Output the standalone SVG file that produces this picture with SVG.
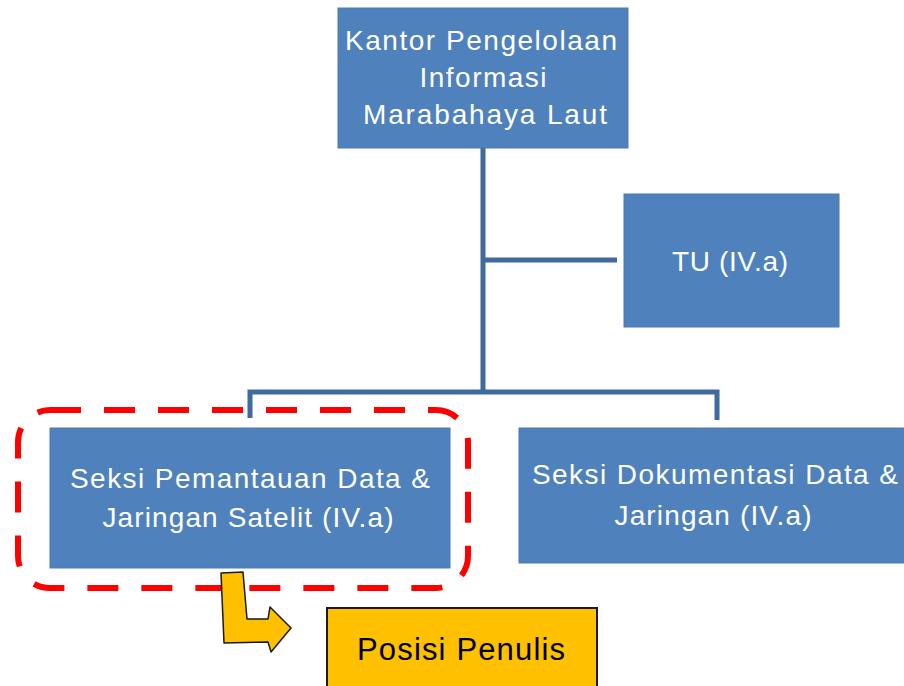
<svg xmlns="http://www.w3.org/2000/svg" width="904" height="686" viewBox="0 0 904 686">
<style>
.box{fill:#4F81BD;stroke:#4A7AB5;stroke-width:1}
.t{font-family:"Liberation Sans",Arial,sans-serif;font-size:28px;fill:#FFFFFF;text-anchor:middle}
.conn{fill:none;stroke:#3F6B9E;stroke-width:5;stroke-linejoin:miter}
</style>
<rect width="904" height="686" fill="#FFFFFF"/>
<g id="connectors">
<path class="conn" d="M483,148 V392"/>
<path class="conn" d="M483,260 H617"/>
<path class="conn" d="M250,418 V392 H717 V420"/>
</g>
<g id="kantor">
<rect class="box" x="338" y="8" width="290" height="140"/>
<text class="t" x="481" y="50" textLength="272" lengthAdjust="spacing">Kantor Pengelolaan</text>
<text class="t" x="483" y="87" textLength="127" lengthAdjust="spacing">Informasi</text>
<text class="t" x="485" y="124" textLength="244" lengthAdjust="spacing">Marabahaya Laut</text>
</g>
<g id="tu">
<rect class="box" x="624" y="194" width="215" height="133"/>
<text class="t" x="730" y="271" textLength="116" lengthAdjust="spacing">TU (IV.a)</text>
</g>
<g id="seksi-pemantauan">
<rect class="box" x="50" y="428" width="400" height="140"/>
<text class="t" x="250" y="488" textLength="360" lengthAdjust="spacing">Seksi Pemantauan Data &amp;</text>
<text class="t" x="248" y="527" textLength="291" lengthAdjust="spacing">Jaringan Satelit (IV.a)</text>
</g>
<g id="seksi-dokumentasi">
<rect class="box" x="519" y="428" width="390" height="135"/>
<text class="t" x="715" y="484" textLength="366" lengthAdjust="spacing">Seksi Dokumentasi Data &amp;</text>
<text class="t" x="713" y="525" textLength="197" lengthAdjust="spacing">Jaringan (IV.a)</text>
</g>
<g id="highlight">
<rect x="18" y="410" width="450" height="178" rx="32" ry="32" fill="none" stroke="#FF0000" stroke-width="6" stroke-dasharray="31 23"/>
</g>
<g id="arrow">
<path d="M221,573 L243,572 L247,619 L268,619 L270,607 L291,628 L271,652 L268,642 L224,643 Z" fill="#FFC000" stroke="#1A1A1A" stroke-width="1.5" stroke-linejoin="round"/>
</g>
<g id="posisi-penulis">
<rect x="327" y="608" width="270" height="90" fill="#FFC000" stroke="#1A1A1A" stroke-width="2"/>
<text x="461" y="660" font-family="Liberation Sans, Arial, sans-serif" font-size="31" fill="#000000" text-anchor="middle" textLength="208" lengthAdjust="spacing">Posisi Penulis</text>
</g>
</svg>
